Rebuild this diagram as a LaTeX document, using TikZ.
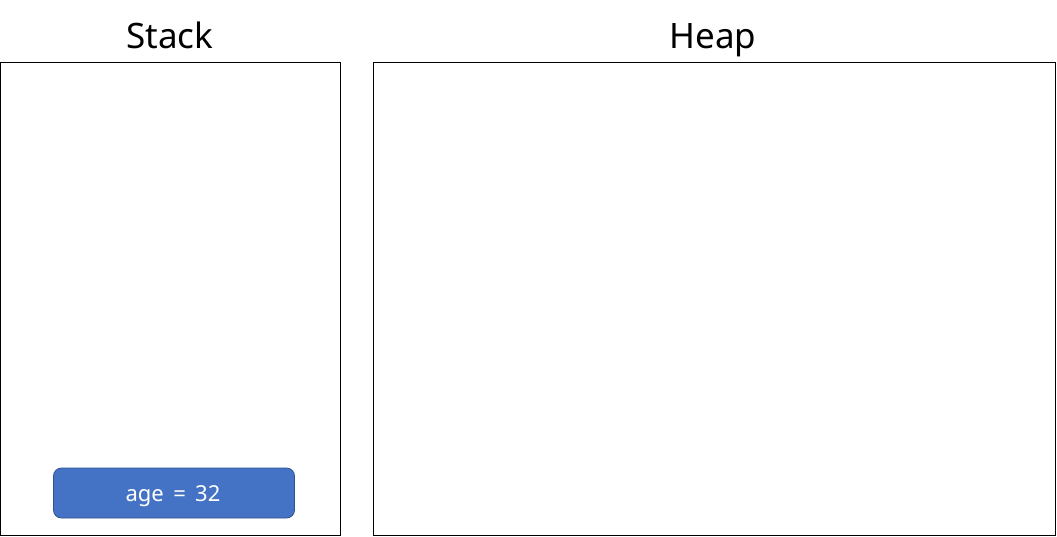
\documentclass[tikz,border=0pt]{standalone}
\usepackage{fontspec}
\setmainfont{Noto Sans}
\definecolor{boxblue}{HTML}{4472C4}
\definecolor{boxedge}{HTML}{2F528F}
\begin{document}
\begin{tikzpicture}[x=1pt,y=-1pt,
  area/.style={draw=black, line width=1pt},
  title/.style={font=\fontsize{35}{40}\selectfont, anchor=base, inner sep=0},
  var/.style={draw=boxedge, fill=boxblue, rounded corners=8pt, line width=0.8pt,
    minimum width=241pt, minimum height=50pt, inner sep=0},
  vartext/.style={text=white, font=\fontsize{22}{24}\selectfont, anchor=base, inner sep=0}]
\useasboundingbox (0,0) rectangle (1057,536);
\fill[white] (0,0) rectangle (1057,536);
\draw[area] (0.5,62.5) rectangle (340.5,535.5);
\draw[area] (373.5,62.5) rectangle (1055.5,535.5);
\node[title] (stack) at (170,48) {Stack};
\node[title] (heap) at (713,48) {Heap};
\node[var] (age) at (174,493) {};
\node[vartext] (agetext) at (173,501) {age\, = \,32};
\end{tikzpicture}
\end{document}
